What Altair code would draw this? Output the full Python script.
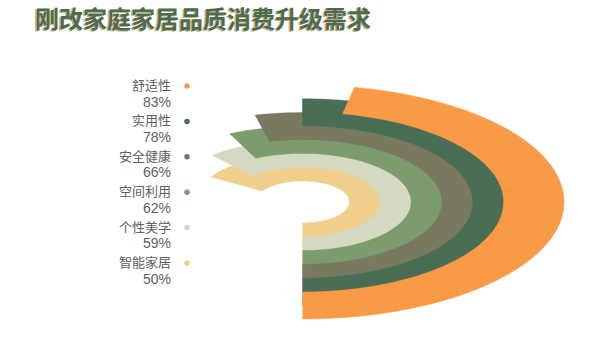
import altair as alt
import pandas as pd

# ---- data ----
title_text = "刚改家庭家居品质消费升级需求"
categories = ["舒适性", "实用性", "安全健康", "空间利用", "个性美学", "智能家居"]
values = [83, 78, 66, 62, 59, 50]
# angular sweep of each arc (degrees, counter-clockwise from 6 o'clock)
sweep_deg = [168.5, 180.0, 193.7, 205.5, 220.7, 238.5]

# ---- styles ----
colors = ["#F99B46", "#4A6E55", "#78795F", "#7C9B6E", "#D4DAC2", "#F0CE8B"]
FONT = "Noto Sans CJK SC"
NUM_FONT = "Liberation Sans"
N = 120  # points per edge of each arc polygon

n = len(categories)
rows = []
for i, (c, s) in enumerate(zip(categories, sweep_deg)):
    for t in range(2 * N + 2):
        rows.append({"cat": c, "ring": n - 1 - i, "sweep": s, "t": t})
arc_df = pd.DataFrame(rows)

base = (
    alt.Chart(arc_df)
    .transform_calculate(frac=f"datum.t <= {N} ? datum.t / {N} : ({2 * N + 1} - datum.t) / {N}")
    .transform_calculate(rin="21 + 13.8 * datum.ring")
    .transform_calculate(r=f"datum.t <= {N} ? datum.rin + 27 : datum.rin")
    .transform_calculate(phi="datum.sweep * datum.frac * PI / 180")
    .transform_calculate(u="datum.r * sin(datum.phi)")
    .transform_calculate(v="-datum.r * cos(datum.phi)")
)

SX = 2.235
xs = alt.Scale(domain=[-302.5 / SX, 297.5 / SX], nice=False, zero=False)
ys = alt.Scale(domain=[-151, 202], nice=False, zero=False)

layers = []
for k in range(n):
    i = n - 1 - k
    layers.append(
        base.transform_filter(f"datum.ring == {k}")
        .mark_line(fill=colors[i], stroke=colors[i], strokeWidth=0.5, interpolate="linear")
        .encode(
            x=alt.X("u:Q", scale=xs, axis=None),
            y=alt.Y("v:Q", scale=ys, axis=None),
            order=alt.Order("t:Q"),
        )
    )

lab_df = pd.DataFrame({"cat": categories, "pct": [f"{v}%" for v in values]})
ypt = alt.Y("cat:N", scale=alt.Scale(type="point", domain=categories, range=[86, 263], padding=0), axis=None)

names = alt.Chart(lab_df).mark_text(
    align="right", baseline="middle", fontSize=13, font=FONT, color="#606060"
).encode(x=alt.value(171), y=ypt, text="cat:N")

pcts = alt.Chart(lab_df).mark_text(
    align="right", baseline="middle", fontSize=14, font=NUM_FONT, color="#606060", dy=16.5
).encode(x=alt.value(171), y=ypt, text="pct:N")

dots = alt.Chart(lab_df).mark_point(filled=True, size=30, opacity=1).encode(
    x=alt.value(187), y=ypt,
    color=alt.Color("cat:N", scale=alt.Scale(domain=categories, range=colors), legend=None),
)

tdf = pd.DataFrame({"t": [title_text]})
shadow = alt.Chart(tdf).mark_text(
    align="left", baseline="middle", fontSize=24, fontWeight="bold", font=FONT, color="#C9B27C", dx=-1.5, dy=1
).encode(x=alt.value(35), y=alt.value(21), text="t:N")
title = alt.Chart(tdf).mark_text(
    align="left", baseline="middle", fontSize=24, fontWeight="bold", font=FONT, color="#4B6B52"
).encode(x=alt.value(35), y=alt.value(21), text="t:N")

chart = (
    alt.layer(*layers, shadow, title, names, pcts, dots)
    .properties(width=600, height=353, autosize=alt.AutoSizeParams(type="none"), padding=0)
    .resolve_scale(y="independent", x="independent")
    .configure_view(stroke=None)
)

chart.save("out.html", embed_options={"renderer": "svg", "actions": False})
